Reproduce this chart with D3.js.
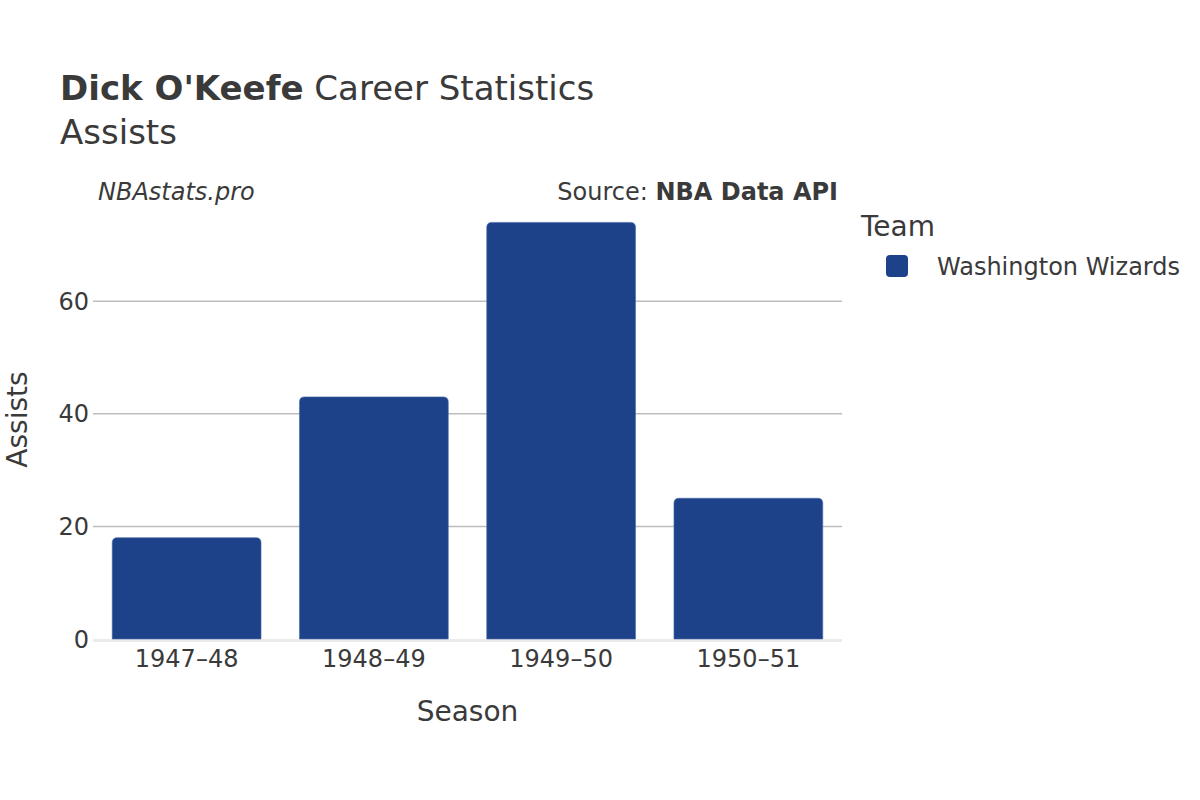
<!DOCTYPE html>
<html>
<head>
<meta charset="utf-8">
<script src="https://cdn.jsdelivr.net/npm/d3@7"></script>
<style>
  body { margin: 0; background: #fff; }
  svg { font-family: "DejaVu Sans", sans-serif; }
</style>
</head>
<body>
<svg width="1200" height="800"></svg>
<script>
// data
const seasons = ["1947–48", "1948–49", "1949–50", "1950–51"];
const assists = [18, 43, 74, 25];
const yTicks = [0, 20, 40, 60];
const teamName = "Washington Wizards";

const margin = {left: 93, right: 358, top: 210, bottom: 161};
const W = 1200, H = 800;
const barColor = "#1d4289";

const svg = d3.select("svg");

const x = d3.scaleBand()
    .domain(seasons)
    .range([margin.left, W - margin.right])
    .paddingInner(0.2)
    .paddingOuter(0.1);

const y = d3.scaleLinear()
    .domain([0, 76.2])
    .range([H - margin.bottom, margin.top]);

// grid lines
svg.append("g")
  .selectAll("line")
  .data(yTicks.filter(d => d > 0))
  .join("line")
    .attr("x1", margin.left)
    .attr("x2", W - margin.right)
    .attr("y1", d => y(d))
    .attr("y2", d => y(d))
    .attr("stroke", "#bdbdbd")
    .attr("stroke-width", 1.5);

// zero line
svg.append("line")
    .attr("x1", margin.left)
    .attr("x2", W - margin.right)
    .attr("y1", y(0) + 1.5)
    .attr("y2", y(0) + 1.5)
    .attr("stroke", "#ebebeb")
    .attr("stroke-width", 3);

// bars with rounded top corners
const r = 5;
function barPath(x0, w, yTop, yBot) {
  return `M${x0},${yBot} L${x0},${yTop + r} Q${x0},${yTop} ${x0 + r},${yTop}
          L${x0 + w - r},${yTop} Q${x0 + w},${yTop} ${x0 + w},${yTop + r} L${x0 + w},${yBot} Z`;
}
svg.append("g")
  .selectAll("path")
  .data(seasons.map((s, i) => ({s, v: assists[i]})))
  .join("path")
    .attr("d", d => barPath(x(d.s) + 0.5, x.bandwidth() - 1, y(d.v), y(0)))
    .attr("fill", barColor)
    .attr("stroke", "#4a6aa8")
    .attr("stroke-width", 0.6);

// y tick labels
svg.append("g")
  .selectAll("text")
  .data(yTicks)
  .join("text")
    .attr("x", margin.left - 4)
    .attr("y", d => y(d))
    .attr("dy", "0.36em")
    .attr("text-anchor", "end")
    .attr("font-size", 24)
    .attr("fill", "#3a3a3a")
    .text(d => d);

// x tick labels
svg.append("g")
  .selectAll("text")
  .data(seasons)
  .join("text")
    .attr("x", d => x(d) + x.bandwidth() / 2)
    .attr("y", 667)
    .attr("text-anchor", "middle")
    .attr("font-size", 24)
    .attr("fill", "#3a3a3a")
    .text(d => d);

// axis titles
svg.append("text")
    .attr("x", (margin.left + W - margin.right) / 2)
    .attr("y", 721)
    .attr("text-anchor", "middle")
    .attr("font-size", 28)
    .attr("fill", "#3a3a3a")
    .text("Season");

svg.append("text")
    .attr("transform", `translate(27, ${(margin.top + H - margin.bottom) / 2 - 5}) rotate(-90)`)
    .attr("text-anchor", "middle")
    .attr("font-size", 28)
    .attr("fill", "#3a3a3a")
    .text("Assists");

// title
const title = svg.append("text")
    .attr("x", 60)
    .attr("y", 100)
    .attr("font-size", 34)
    .attr("fill", "#3a3a3a");
title.append("tspan").attr("font-weight", "bold").text("Dick O'Keefe");
title.append("tspan").text(" Career Statistics");

svg.append("text")
    .attr("x", 60)
    .attr("y", 144)
    .attr("font-size", 34)
    .attr("fill", "#3a3a3a")
    .text("Assists");

// annotations
svg.append("text")
    .attr("x", 98)
    .attr("y", 200)
    .attr("font-size", 24)
    .attr("font-style", "italic")
    .attr("fill", "#3a3a3a")
    .text("NBAstats.pro");

const src = svg.append("text")
    .attr("x", 838)
    .attr("y", 200)
    .attr("text-anchor", "end")
    .attr("font-size", 24)
    .attr("fill", "#3a3a3a");
src.append("tspan").text("Source: ");
src.append("tspan").attr("font-weight", "bold").text("NBA Data API");

// legend
svg.append("text")
    .attr("x", 861)
    .attr("y", 236)
    .attr("font-size", 28)
    .attr("fill", "#3a3a3a")
    .text("Team");

svg.append("rect")
    .attr("x", 886)
    .attr("y", 255)
    .attr("width", 22)
    .attr("height", 22)
    .attr("rx", 4)
    .attr("fill", barColor);

svg.append("text")
    .attr("x", 937)
    .attr("y", 266)
    .attr("dy", "0.36em")
    .attr("font-size", 24)
    .attr("fill", "#3a3a3a")
    .text(teamName);
</script>
</body>
</html>
